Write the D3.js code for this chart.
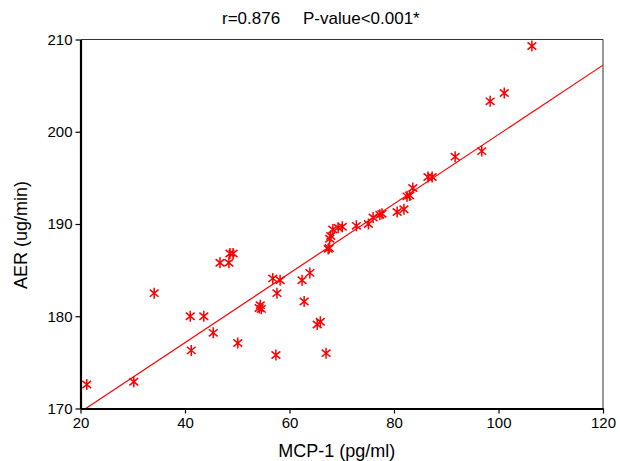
<!DOCTYPE html>
<meta charset="utf-8">
<style>
body { margin: 0; background: #fff; }
text { font-family: "Liberation Sans", Arial, sans-serif; fill: #000; }
.tick text { font-size: 15px; }
</style>
<svg width="620" height="461"></svg>
<script src="https://d3js.org/d3.v7.min.js"></script>
<script>

// MCP-1 (pg/ml)
var mcp = [21.2, 30.2, 34.1, 41.0, 43.6, 41.2, 45.4, 50.1, 46.7, 48.4, 48.6, 49.2,
  54.2, 54.4, 54.6, 56.8, 58.2, 57.6, 57.4, 62.4, 63.9, 62.8, 65.3, 65.9, 67.0,
  67.4, 67.6, 67.7, 67.9, 68.3, 69.3, 70.1, 72.8, 75.1, 76.0, 77.3, 77.7, 80.6,
  81.9, 82.5, 83.0, 83.6, 86.5, 87.3, 91.7, 96.8, 98.4, 101.1, 106.4];
// AER (ug/min)
var aer = [172.6, 172.9, 182.5, 180.0, 180.0, 176.3, 178.2, 177.1, 185.8, 185.8, 186.8, 186.8,
  180.9, 181.2, 180.8, 184.1, 183.9, 182.5, 175.8, 183.9, 184.7, 181.6, 179.1, 179.4, 176.0,
  187.3, 187.4, 188.4, 188.7, 189.4, 189.6, 189.7, 189.8, 190.0, 190.7, 191.0, 191.1, 191.3,
  191.6, 193.0, 193.1, 193.9, 195.1, 195.1, 197.3, 197.9, 203.3, 204.2, 209.3];

var xTicks = [20, 40, 60, 80, 100, 120];
var yTicks = [170, 180, 190, 200, 210];

// fitted line y = a + b*x
var fitA = 162.1, fitB = 0.376;

var svg = d3.select("svg");
var m = {left: 80.5, right: 603, top: 39.5, bottom: 408.5};

var x = d3.scaleLinear().domain([20, 120]).range([m.left, m.right]);
var y = d3.scaleLinear().domain([170, 210]).range([m.bottom, m.top]);

svg.append("clipPath").attr("id", "clip")
  .append("rect")
    .attr("x", m.left).attr("y", m.top)
    .attr("width", m.right - m.left).attr("height", m.bottom - m.top);

// frame (top/right)
svg.append("path")
    .attr("d", `M${m.left},${m.top}H${m.right}V${m.bottom}`)
    .attr("fill", "none")
    .attr("stroke", "#333")
    .attr("stroke-width", 1);

// regression line
svg.append("line")
    .attr("clip-path", "url(#clip)")
    .attr("x1", x(20)).attr("y1", y(fitA + fitB * 20))
    .attr("x2", x(120)).attr("y2", y(fitA + fitB * 120))
    .attr("stroke", "#ff0000")
    .attr("stroke-width", 1.2);

// asterisk markers
var star = "M0,-5.5V5.5M-4.4,-3.6L4.4,3.6M-4.4,3.6L4.4,-3.6";
svg.append("g")
  .selectAll("path")
  .data(mcp.map((d, i) => [d, aer[i]]))
  .join("path")
    .attr("transform", d => `translate(${x(d[0])},${y(d[1])})`)
    .attr("d", star)
    .attr("fill", "none")
    .attr("stroke", "#ff0000")
    .attr("stroke-width", 1.5);

// axes
var xAxis = svg.append("g")
    .attr("transform", `translate(0,${m.bottom})`)
    .call(d3.axisBottom(x).tickValues(xTicks).tickSize(5).tickPadding(4).tickSizeOuter(0));
var yAxis = svg.append("g")
    .attr("transform", `translate(${m.left},0)`)
    .call(d3.axisLeft(y).tickValues(yTicks).tickSize(5).tickPadding(3).tickSizeOuter(0));

[xAxis, yAxis].forEach(g => {
  g.select(".domain").attr("stroke", "#000").attr("stroke-width", 2.2);
  g.selectAll(".tick line").attr("stroke", "#000").attr("stroke-width", 1.2);
  g.selectAll(".tick text").attr("fill", "#000").style("font-family", "Liberation Sans, Arial, sans-serif");
});

// titles
svg.append("text")
    .attr("x", (m.left + m.right) / 2 - 5).attr("y", 457)
    .attr("text-anchor", "middle")
    .style("font-size", "18px")
    .text("MCP-1 (pg/ml)");

svg.append("text")
    .attr("transform", `translate(27,235) rotate(-90)`)
    .attr("text-anchor", "middle")
    .style("font-size", "18px")
    .text("AER (ug/min)");

svg.append("text")
    .attr("x", 222).attr("y", 24)
    .style("font-size", "17px")
    .text("r=0.876");
svg.append("text")
    .attr("x", 303).attr("y", 24)
    .style("font-size", "17px")
    .text("P-value<0.001*");

</script>
